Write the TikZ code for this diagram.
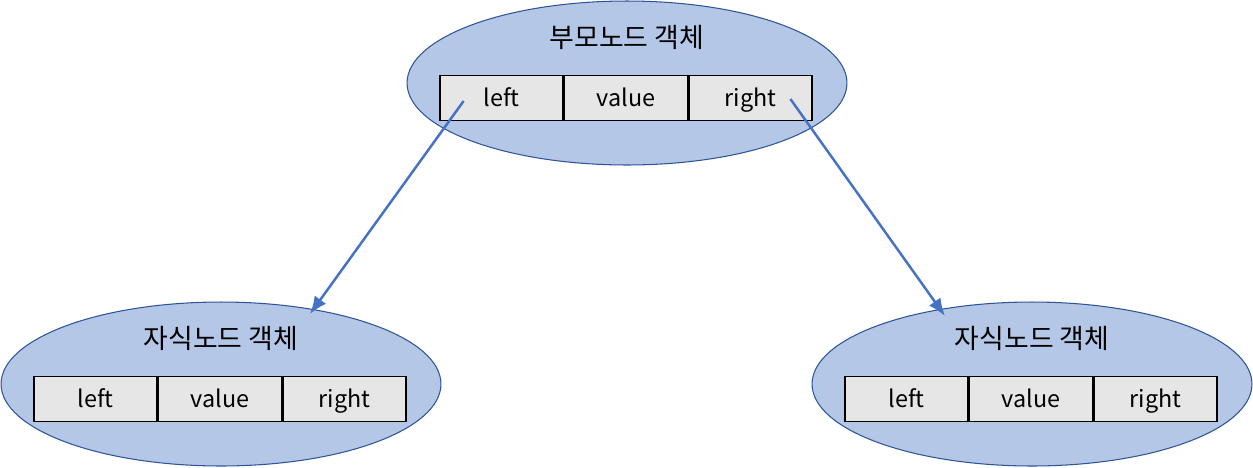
\documentclass[tikz,border=0pt]{standalone}
\usepackage{fontspec}
\setmainfont{Noto Sans CJK KR}
\usetikzlibrary{calc,shapes.geometric,arrows.meta}
\definecolor{objfill}{HTML}{B4C7E7}
\definecolor{objline}{HTML}{2F5597}
\definecolor{cellfill}{HTML}{E7E6E6}
\definecolor{linkblue}{HTML}{4472C4}
\tikzset{
	objblob/.style={ellipse,draw=objline,fill=objfill,semithick,minimum width=8.8cm,minimum height=3.28cm,inner sep=0pt},
	cellbox/.style={draw=black,fill=cellfill,thick,minimum width=2.46cm,minimum height=0.9cm,inner sep=0pt,text height=1em,text depth=0.05em,font=\fontsize{13.3}{15}\selectfont},
	titletxt/.style={font=\fontsize{15.3}{18}\selectfont},
	link/.style={draw=linkblue,line width=1.4pt,-{Latex[length=10pt,width=8pt]}}
}
\newcommand{\ObjNode}[4]{
	%ellipse
	\node[objblob] (#1) at (#2,#3) {};
	%title
	\node[titletxt] (#1-t) at (#2,#3-46) {#4};
	%fields
	\node[cellbox] (#1-v) at (#2-1,#3+15) {value};
	\node[cellbox,anchor=east] (#1-l) at (#1-v.west) {left};
	\node[cellbox,anchor=west] (#1-r) at (#1-v.east) {right};
}
\begin{document}
\begin{tikzpicture}[x=0.02cm,y=-0.02cm]
	\useasboundingbox (0,0) rectangle (1253,467);
	\ObjNode{par}{627}{83}{부모노드 객체}
	\ObjNode{lch}{221}{384}{자식노드 객체}
	\ObjNode{rch}{1032}{384}{자식노드 객체}
	%links
	\coordinate (lfrom) at ($(par-l.center)+(-38,3)$);
	\coordinate (rfrom) at ($(par-r.center)+(40,1)$);
	\coordinate (lto) at ($(lch.center)+(89,-70)$);
	\coordinate (rto) at ($(rch.center)+(-87,-68)$);
	\draw[link] (lfrom) -- (lto);
	\draw[link] (rfrom) -- (rto);
\end{tikzpicture}
\end{document}
